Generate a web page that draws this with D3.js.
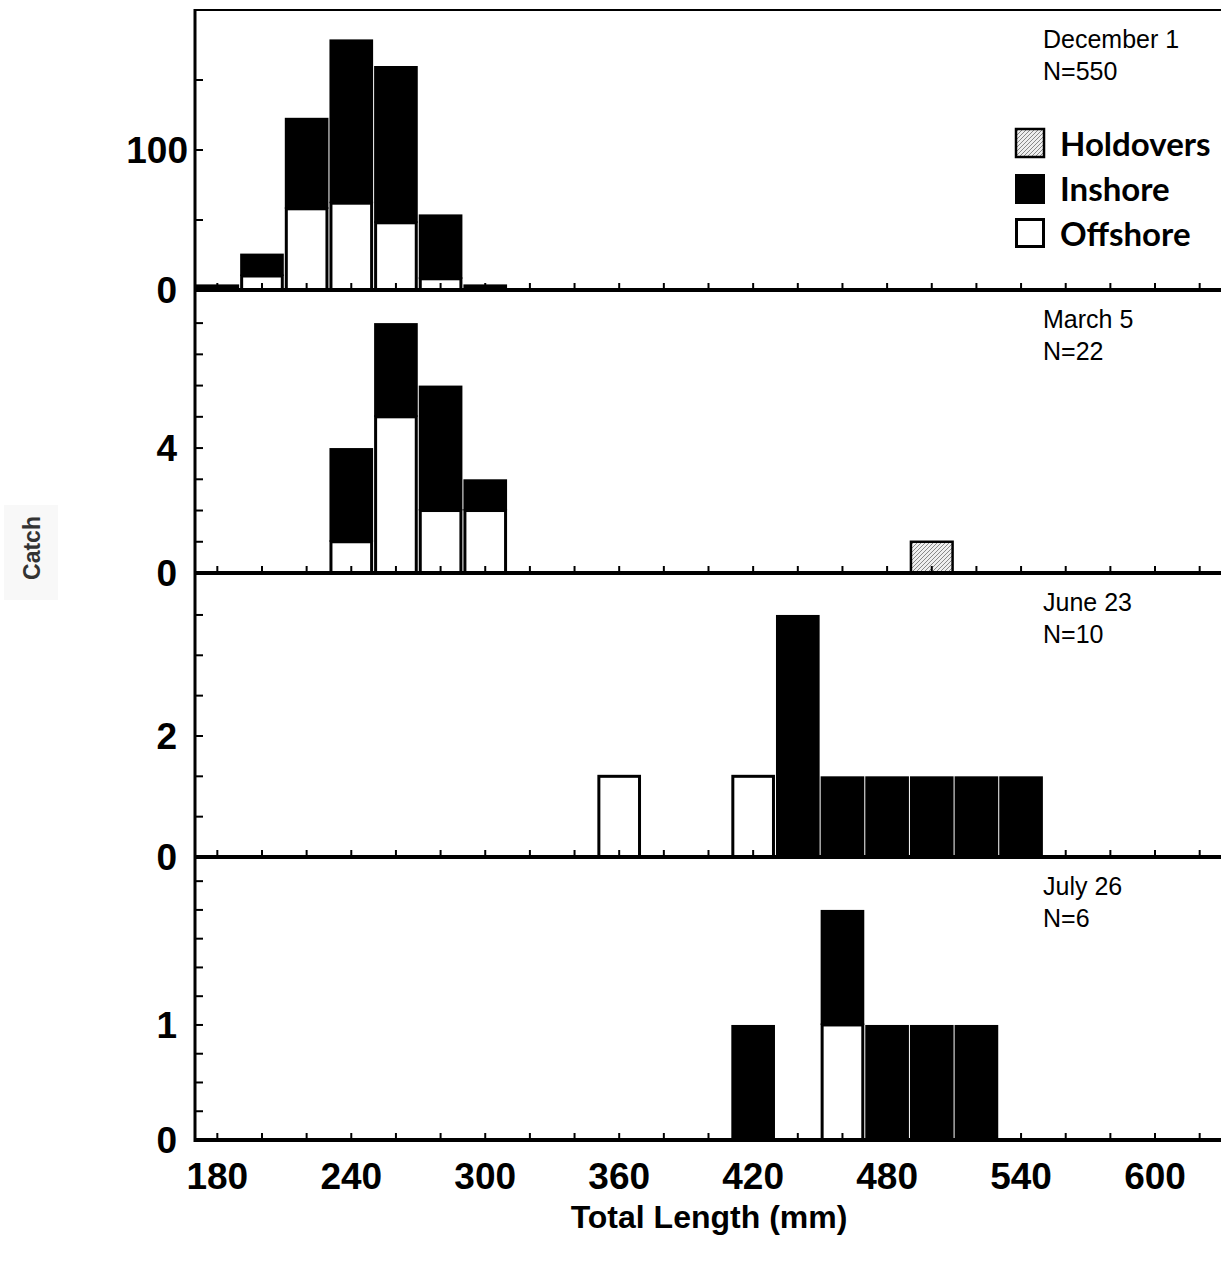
<!DOCTYPE html>
<html>
<head>
<meta charset="utf-8">
<script src="https://cdn.jsdelivr.net/npm/d3@7"></script>
<style>
  body { margin: 0; background: #fff; }
  text { font-family: "Liberation Sans", Arial, sans-serif; }
  .tick-label { font-weight: bold; font-size: 37px; fill: #000; }
  .date-label { font-size: 25px; fill: #000; }
  .legend-label { font-family: Lato, "Open Sans", sans-serif; font-weight: bold; font-size: 33px; }
</style>
</head>
<body>
<svg id="chart"></svg>
<script>
// length bins (mm, bin centres, 20 mm wide)
const decBins = [180, 200, 220, 240, 260, 280, 300];
const decOffshore = [0, 10, 58, 62, 48, 8, 0];
const decInshore = [4, 16, 65, 117, 112, 46, 4];
const decHoldovers = [0, 0, 0, 0, 0, 0, 0];

const marBins = [240, 260, 280, 300, 500];
const marOffshore = [1, 5, 2, 2, 0];
const marInshore = [3, 3, 4, 1, 0];
const marHoldovers = [0, 0, 0, 0, 1];

const junBins = [360, 420, 440, 460, 480, 500, 520, 540];
const junOffshore = [1, 1, 0, 0, 0, 0, 0, 0];
const junInshore = [0, 0, 3, 1, 1, 1, 1, 1];
const junHoldovers = [0, 0, 0, 0, 0, 0, 0, 0];

const julBins = [420, 460, 480, 500, 520];
const julOffshore = [0, 1, 0, 0, 0];
const julInshore = [1, 1, 1, 1, 1];
const julHoldovers = [0, 0, 0, 0, 0];

const panelDates = ['December 1', 'March 5', 'June 23', 'July 26'];
const panelN = ['N=550', 'N=22', 'N=10', 'N=6'];

// y ticks (minor) and labelled ticks as they appear on each panel
const yMinorTicks = [
  [50, 100, 150],
  [1, 2, 3, 4, 5, 6, 7, 8],
  [0.5, 1, 1.5, 2, 2.5, 3],
  [0.25, 0.5, 0.75, 1, 1.25, 1.5, 1.75, 2, 2.25]
];
const yLabelVals = [[0, 100], [0, 4], [0, 1.5], [0, 1]];
const yLabelText = [['0', '100'], ['0', '4'], ['0', '2'], ['0', '1']];
const yMax = [200, 9.06, 3.52, 2.46];

const xLabels = [180, 240, 300, 360, 420, 480, 540, 600];
const legendNames = ['Holdovers', 'Inshore', 'Offshore'];

const width = 1221, height = 1264;
const left = 195, right = 1221;
const baselines = [290, 573, 857, 1140];
const tops = [10, 290, 573, 857];

const svg = d3.select('#chart')
  .attr('width', width)
  .attr('height', height);

const defs = svg.append('defs');
const pat = defs.append('pattern')
  .attr('id', 'hatch')
  .attr('patternUnits', 'userSpaceOnUse')
  .attr('width', 4).attr('height', 4);
pat.append('rect').attr('width', 4).attr('height', 4).attr('fill', '#eee');
pat.append('path')
  .attr('d', 'M-1,1 l2,-2 M0,4 l4,-4 M3,5 l2,-2')
  .attr('stroke', '#888')
  .attr('stroke-width', 1);

const x = d3.scaleLinear()
  .domain([170, 630])
  .range([left, right + 1]);

const panels = [
  {bins: decBins, off: decOffshore, ins: decInshore, hold: decHoldovers},
  {bins: marBins, off: marOffshore, ins: marInshore, hold: marHoldovers},
  {bins: junBins, off: junOffshore, ins: junInshore, hold: junHoldovers},
  {bins: julBins, off: julOffshore, ins: julInshore, hold: julHoldovers}
];

panels.forEach((p, i) => {
  const y = d3.scaleLinear()
    .domain([0, yMax[i]])
    .range([baselines[i], tops[i]]);

  const rows = p.bins.map((b, j) => ({bin: b, off: p.off[j], ins: p.ins[j], hold: p.hold[j]}));
  const g = svg.append('g');

  // offshore (white, bottom of stack)
  g.selectAll('.off')
    .data(rows.filter(d => d.off > 0))
    .enter().append('rect')
    .attr('class', 'off')
    .attr('x', d => x(d.bin - 10) + 2)
    .attr('width', d => x(d.bin + 10) - x(d.bin - 10) - 4)
    .attr('y', d => y(d.off))
    .attr('height', d => y(0) - y(d.off))
    .attr('fill', '#fff')
    .attr('stroke', '#000')
    .attr('stroke-width', 3);

  // inshore (black, stacked on offshore)
  g.selectAll('.ins')
    .data(rows.filter(d => d.ins > 0))
    .enter().append('rect')
    .attr('class', 'ins')
    .attr('x', d => x(d.bin - 10) + 0.5)
    .attr('width', d => x(d.bin + 10) - x(d.bin - 10) - 1)
    .attr('y', d => y(d.off + d.ins))
    .attr('height', d => y(d.off) - y(d.off + d.ins))
    .attr('fill', '#000');

  // holdovers (hatched)
  g.selectAll('.hold')
    .data(rows.filter(d => d.hold > 0))
    .enter().append('rect')
    .attr('class', 'hold')
    .attr('x', d => x(d.bin - 10) + 1.5)
    .attr('width', d => x(d.bin + 10) - x(d.bin - 10) - 3)
    .attr('y', d => y(d.hold))
    .attr('height', d => y(0) - y(d.hold))
    .attr('fill', 'url(#hatch)')
    .attr('stroke', '#000')
    .attr('stroke-width', 2.5);

  // x ticks on the baseline, pointing up
  g.selectAll('.xt')
    .data(d3.range(180, 621, 20))
    .enter().append('line')
    .attr('x1', d => x(d)).attr('x2', d => x(d))
    .attr('y1', baselines[i]).attr('y2', baselines[i] - 7)
    .attr('stroke', '#000')
    .attr('stroke-width', 2);

  // baseline
  g.append('line')
    .attr('x1', left).attr('x2', right)
    .attr('y1', baselines[i]).attr('y2', baselines[i])
    .attr('stroke', '#000')
    .attr('stroke-width', 4);

  // y ticks, pointing right
  g.selectAll('.yt')
    .data(yMinorTicks[i])
    .enter().append('line')
    .attr('x1', left).attr('x2', left + 8)
    .attr('y1', d => y(d)).attr('y2', d => y(d))
    .attr('stroke', '#000')
    .attr('stroke-width', 2);

  g.selectAll('.yl')
    .data(yLabelVals[i])
    .enter().append('text')
    .attr('class', 'tick-label')
    .attr('x', (d, k) => yLabelText[i][k].length > 1 ? 188 : 177)
    .attr('y', d => y(d))
    .attr('dy', '0.36em')
    .attr('text-anchor', 'end')
    .text((d, k) => yLabelText[i][k]);

  // date + N
  g.append('text')
    .attr('class', 'date-label')
    .attr('x', 1043)
    .attr('y', tops[i] + 38)
    .text(panelDates[i]);
  g.append('text')
    .attr('class', 'date-label')
    .attr('x', 1043)
    .attr('y', tops[i] + 70)
    .text(panelN[i]);
});

// left axis and top frame
svg.append('line')
  .attr('x1', left).attr('x2', left)
  .attr('y1', 9).attr('y2', 1142)
  .attr('stroke', '#000')
  .attr('stroke-width', 3);
svg.append('line')
  .attr('x1', left).attr('x2', right)
  .attr('y1', 10).attr('y2', 10)
  .attr('stroke', '#000')
  .attr('stroke-width', 2);

// x tick labels
svg.selectAll('.xl')
  .data(xLabels)
  .enter().append('text')
  .attr('class', 'tick-label')
  .attr('x', d => x(d))
  .attr('y', 1189)
  .attr('text-anchor', 'middle')
  .text(d => d);

// axis titles
svg.append('text')
  .attr('x', 709)
  .attr('y', 1228)
  .attr('text-anchor', 'middle')
  .style('font-weight', 'bold')
  .style('font-size', '32px')
  .text('Total Length (mm)');

svg.append('rect')
  .attr('x', 4).attr('y', 505)
  .attr('width', 54).attr('height', 95)
  .attr('fill', '#f8f8f8');
svg.append('text')
  .attr('transform', 'translate(40,548) rotate(-90)')
  .attr('text-anchor', 'middle')
  .style('font-weight', 'bold')
  .style('font-size', '23px')
  .style('fill', '#333')
  .text('Catch');

// legend
const legend = svg.append('g');
const legendY = [129, 174, 219];
legend.append('rect')
  .attr('x', 1016).attr('y', legendY[0])
  .attr('width', 28).attr('height', 28)
  .attr('fill', 'url(#hatch)')
  .attr('stroke', '#000').attr('stroke-width', 2.5);
legend.append('rect')
  .attr('x', 1015).attr('y', legendY[1])
  .attr('width', 30).attr('height', 30)
  .attr('fill', '#000');
legend.append('rect')
  .attr('x', 1016.5).attr('y', legendY[2] + 0.5)
  .attr('width', 27).attr('height', 27)
  .attr('fill', '#fff')
  .attr('stroke', '#000').attr('stroke-width', 3);
legend.selectAll('.lt')
  .data(legendNames)
  .enter().append('text')
  .attr('class', 'legend-label')
  .attr('x', 1060)
  .attr('y', (d, k) => legendY[k] + 27)
  .text(d => d);
</script>
</body>
</html>
